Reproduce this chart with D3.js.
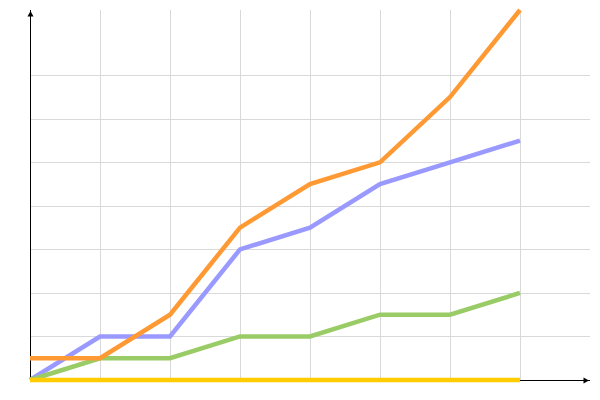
<!DOCTYPE html>
<html><head><meta charset="utf-8">
<script src="https://cdn.jsdelivr.net/npm/d3@7"></script>
<style>body{margin:0;background:#fff}svg{display:block}</style>
</head><body>
<svg id="chart" width="600" height="400"></svg>
<script>
const categories = [0, 1, 2, 3, 4, 5, 6, 7];
const seriesNames = ["blue", "green", "orange", "yellow"];
const blueValues = [0, 2, 2, 6, 7, 9, 10, 11];
const greenValues = [0, 1, 1, 2, 2, 3, 3, 4];
const orangeValues = [1, 1, 3, 7, 9, 10, 13, 17];
const yellowValues = [0, 0, 0, 0, 0, 0, 0, 0];
const yTicks = [2, 4, 6, 8, 10, 12, 14];
const colors = ["#9999ff", "#99cc66", "#ff9933", "#ffcc00"];

const svg = d3.select("#chart");
const x = d3.scaleLinear().domain([0, 7]).range([30, 520]);
const y = d3.scaleLinear().domain([0, 17]).range([380, 10]);

// grid
const g = svg.append("g");
g.selectAll("line.h").data(yTicks).join("line")
  .attr("x1", 30).attr("x2", 590)
  .attr("y1", d => Math.round(y(d)) + 0.5).attr("y2", d => Math.round(y(d)) + 0.5)
  .attr("stroke", "#d9d9d9").attr("stroke-width", 1);
g.selectAll("line.v").data(categories.slice(1)).join("line")
  .attr("x1", d => x(d) + 0.5).attr("x2", d => x(d) + 0.5)
  .attr("y1", 10).attr("y2", 380)
  .attr("stroke", "#d9d9d9").attr("stroke-width", 1);

// axes
svg.append("line").attr("x1", 30.5).attr("x2", 30.5).attr("y1", 10).attr("y2", 381)
  .attr("stroke", "#000").attr("stroke-width", 1);
svg.append("line").attr("x1", 30).attr("x2", 590).attr("y1", 380.5).attr("y2", 380.5)
  .attr("stroke", "#000").attr("stroke-width", 1);
svg.append("path").attr("d", "M30.5,11 L33.5,16.5 L27.5,16.5 Z").attr("fill", "#000");
svg.append("path").attr("d", "M589,380.5 L583.5,377.5 L583.5,383.5 Z").attr("fill", "#000");

const all = [blueValues, greenValues, orangeValues, yellowValues];
const line = d3.line().x((d, i) => x(categories[i])).y(d => y(d));
svg.selectAll("path.series").data(all).join("path")
  .attr("class", "series")
  .attr("d", line)
  .attr("fill", "none")
  .attr("stroke", (d, i) => colors[i])
  .attr("stroke-width", 4.5)
  .attr("stroke-linejoin", "miter");
</script>
</body></html>
